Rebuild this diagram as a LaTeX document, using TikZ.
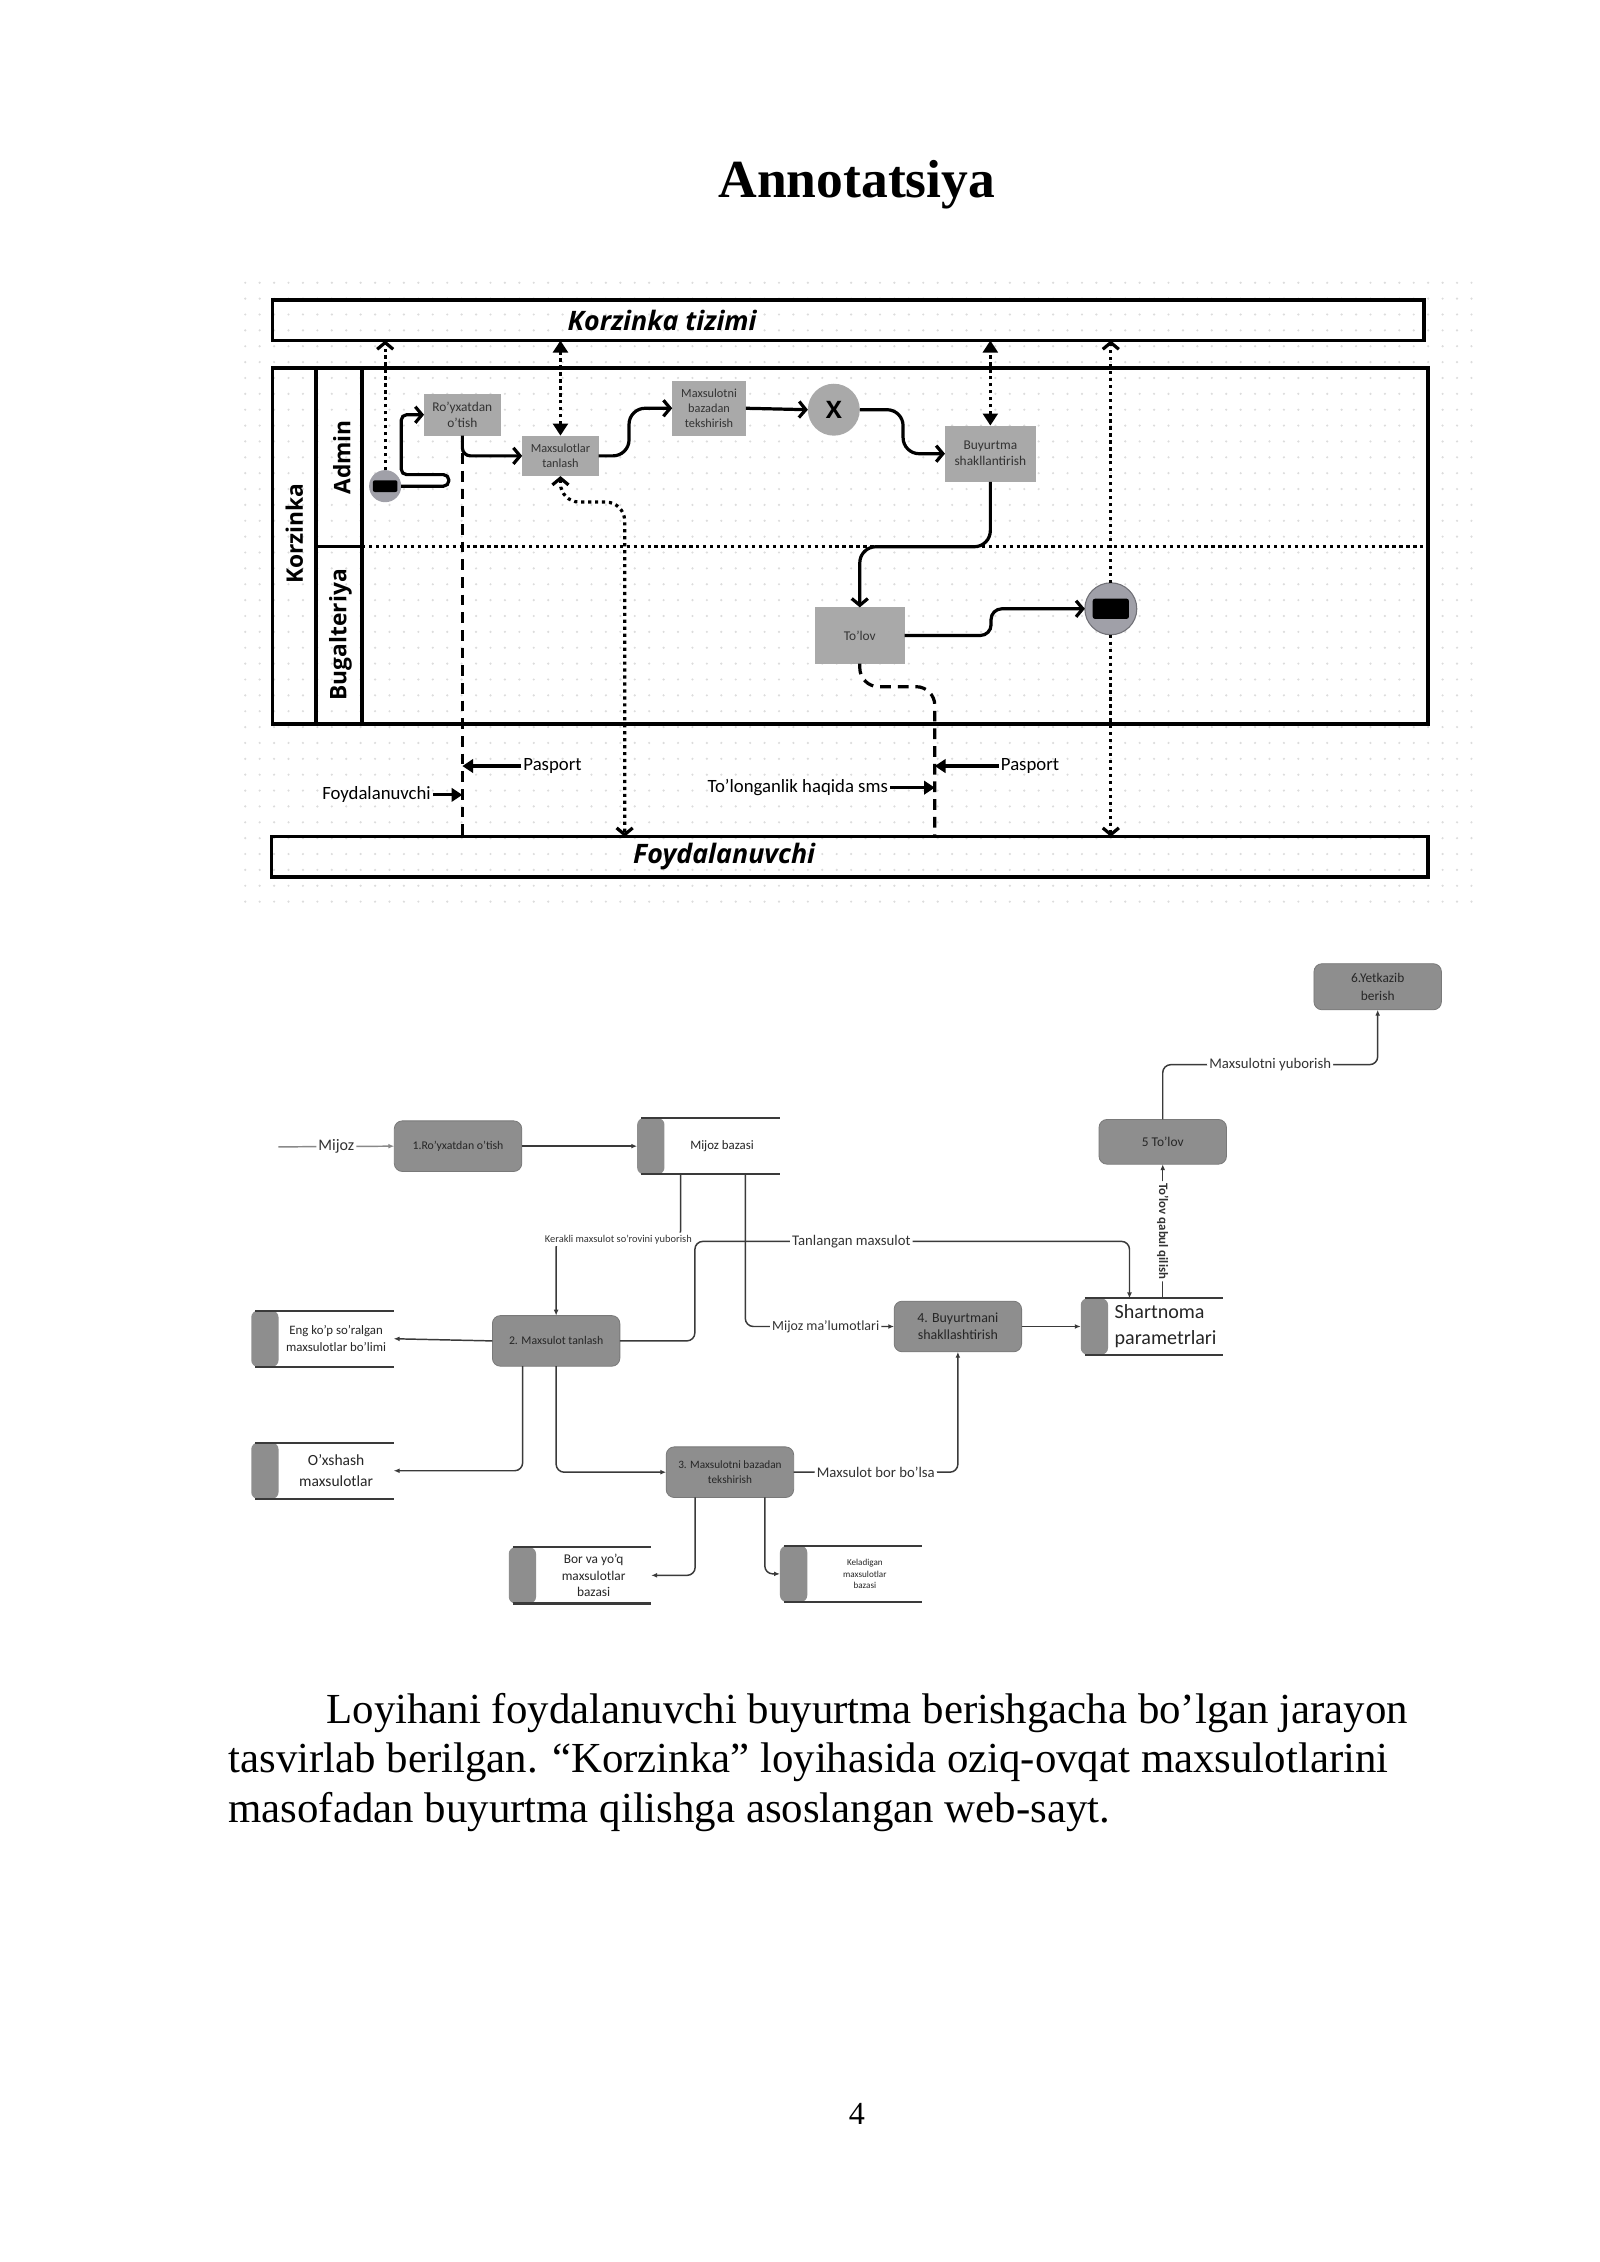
\documentclass[tikz,border=0pt]{standalone}
\usepackage{fontspec}
\setmainfont{Liberation Serif}
\newfontfamily\opensans{Open Sans}
\newfontfamily\carlito{Carlito}
\usepackage{xcolor}
\usepackage{tikz}
\usetikzlibrary{positioning, arrows.meta, calc}
\definecolor{taskgrey}{HTML}{A9A9A9}
\definecolor{eventgrey}{HTML}{A0A0A8}
\definecolor{dfdgrey}{HTML}{8E8E8E}
\definecolor{dfdline}{HTML}{3A3A3A}
\definecolor{gridgrey}{HTML}{DCDCDC}
\definecolor{textgrey}{HTML}{333333}

\begin{document}
\begin{tikzpicture}[x=0.018936cm, y=-0.018936cm,
    poolbox/.style={draw, line width=1.3pt, inner sep=0pt, outer sep=0pt},
    task/.style={fill=taskgrey, inner sep=0pt, outer sep=0pt, align=center, text=textgrey,
      font=\carlito\fontsize{5}{6}\selectfont},
    event/.style 2 args={circle, fill=eventgrey, inner sep=0pt, outer sep=0pt, path picture={
      \fill[black, rounded corners=0.8pt] ([xshift=-#1/2, yshift=-#2/2]path picture bounding box.center) rectangle ++(#1,#2);}},
    barb/.tip={Straight Barb[length=2.5pt, width=6pt]},
    tri/.tip={Triangle[length=4.5pt, width=5.5pt]},
    flow/.style={line width=1.2pt, -barb},
    dotflow/.style={line width=1.2pt, dash pattern=on 1.2pt off 1.4pt},
    dashflow/.style={line width=1.2pt, dash pattern=on 4pt off 2.6pt},
    lanelabel/.style={rotate=90, font=\opensans\bfseries\fontsize{8.5}{10}\selectfont},
    smalllabel/.style={inner sep=0.6pt, font=\carlito\fontsize{7}{8}\selectfont},
    labelarrow/.style={line width=1.2pt, -{Triangle[length=4pt, width=5pt]}},
    process/.style={rounded corners=3pt, fill=dfdgrey, draw=dfdgrey!85!black, line width=0.3pt,
      minimum width=47.6pt, minimum height=18.9pt, inner sep=0pt, outer sep=0pt, align=center,
      text=black!85, font=\carlito\fontsize{4.4}{5.4}\selectfont},
    storecap/.style={rounded corners=2.5pt, fill=dfdgrey, minimum width=10.2pt, minimum height=21pt,
      inner sep=0pt, outer sep=0pt},
    store/.style={minimum width=43pt, minimum height=21pt, inner sep=0.5pt, outer sep=0pt, align=center,
      text=black!85, font=\carlito\fontsize{4.8}{6.4}\selectfont},
    storeline/.style={draw=dfdline, line width=0.8pt},
    dfdarrow/.style={draw=dfdline, line width=0.55pt, rounded corners=3pt,
      -{Latex[length=2.2pt, width=1.8pt]}},
    dfdlabel/.style={fill=white, inner sep=0.8pt, text=black!80,
      font=\carlito\fontsize{5.5}{6.5}\selectfont},
    bodytext/.style={anchor=base west, inner sep=0pt, font=\fontsize{16}{18}\selectfont}
  ]
    \useasboundingbox (0,0) rectangle (1109,1568);
    \fill[white] (0,0) rectangle (1109,1568);
    \node[font=\bfseries\fontsize{20}{24}\selectfont] (title) at (594,128) {Annotatsiya};

    \foreach \gx in {170,180,...,1020} {
        \foreach \gy in {196,207,...,628} {
            \fill[gridgrey] (\gx,\gy) circle (0.45pt);
        }
    }

    \node[poolbox, minimum width=429.9pt, minimum height=15.1pt] (tizimi) at (588,222) {};
    \node[font=\opensans\bfseries\itshape\fontsize{10}{12}\selectfont] (tizimitext) at (459,222) {Korzinka tizimi};
    \node[poolbox, minimum width=431.5pt, minimum height=133.1pt] (pool) at (589.5,378.5) {};
    \draw[line width=1.3pt] (219,255) -- (219,502) (251,255) -- (251,502) (219,379) -- (251,379);
    \draw[dotflow] (251,379) -- (988,379);
    \node[lanelabel] (korzinkalane) at (204,370) {Korzinka};
    \node[lanelabel] (adminlane) at (237,317) {Admin};
    \node[lanelabel] (bugalterlane) at (236,440) {Bugalteriya};
    \node[poolbox, minimum width=432pt, minimum height=15.1pt] (foyda) at (589,594) {};
    \node[font=\opensans\bfseries\itshape\fontsize{10}{12}\selectfont] (foydatext) at (502,594) {Foydalanuvchi};

    \node[task, minimum width=28.6pt, minimum height=15.6pt] (royxat) at (320.5,287.5) {Ro’yxatdan\\o’tish};
    \node[task, minimum width=28.6pt, minimum height=15.1pt, font=\carlito\fontsize{4.6}{5.6}\selectfont] (tanlash) at (388.5,316) {Maxsulotlar\\tanlash};
    \node[task, minimum width=27.5pt, minimum height=20.5pt, font=\carlito\fontsize{4.6}{5.6}\selectfont] (tekshir) at (491.5,283) {Maxsulotni\\bazadan\\tekshirish};
    \node[circle, fill=taskgrey, minimum size=19.4pt, inner sep=0pt, outer sep=0pt, font=\opensans\bfseries\fontsize{9}{10}\selectfont] (gate) at (578,284) {X};
    \node[task, minimum width=33.9pt, minimum height=21pt] (buyurtma) at (686.5,314.5) {Buyurtma\\shakllantirish};
    \node[task, minimum width=33.4pt, minimum height=21pt] (tolov) at (596,440.5) {To’lov};
    \node[event={9.2pt}{4.4pt}, minimum size=12pt] (startev) at (267,337) {};
    \node[event={13.5pt}{7.5pt}, minimum size=19.4pt, draw=eventgrey!70!black, line width=0.4pt] (endev) at (770,422) {};

    \draw[flow, rounded corners=2pt] (startev.east) -- ++(33,0) -- ++(0,-8) -- ++(-33,0) |- (royxat.west);
    \draw[flow, rounded corners=3pt] (royxat.south) |- (tanlash.west);
    \draw[flow, rounded corners=6pt] (tanlash.east) -- ++(21,0) |- (tekshir.west);
    \draw[flow] (tekshir.east) -- (gate.west);
    \draw[flow, rounded corners=6pt] (gate.east) -- ++(30,0) |- (buyurtma.west);
    \draw[flow, rounded corners=6pt] (buyurtma.south) -- ++(0,45) -| (tolov.north);
    \draw[flow, rounded corners=4pt] (tolov.east) -- ++(60,0) |- (endev.west);

    \draw[dotflow, -barb] (startev.north) -- (startev.north |- tizimi.south);
    \draw[dotflow, tri-tri] (tanlash.north) -- (tanlash.north |- tizimi.south);
    \draw[dotflow, tri-tri] (buyurtma.north) -- (buyurtma.north |- tizimi.south);
    \draw[dotflow, -barb] (endev.north) -- (endev.north |- tizimi.south);
    \draw[dotflow, -barb] (endev.south) -- (endev.south |- foyda.north);
    \coordinate (sellift) at (433,580);
    \draw[dotflow, barb-barb, rounded corners=7pt] (tanlash.south) -- ++(0,18) -| (sellift);

    \coordinate (tolovdrop) at (648,580);
    \draw[dashflow] (royxat.south) -- (royxat.south |- foyda.north);
    \draw[dashflow, rounded corners=7pt] (tolov.south) -- ++(0,16) -| (tolovdrop);

    \node[smalllabel] (pasportleft) at (383,531) {Pasport};
    \node[smalllabel] (foydlabel) at (261,551) {Foydalanuvchi};
    \node[smalllabel] (pasportright) at (714,531) {Pasport};
    \node[smalllabel] (smslabel) at (553,546) {To’longanlik haqida sms};
    \draw[labelarrow] (pasportleft.west) -- (pasportleft.west -| royxat.south);
    \draw[labelarrow] (foydlabel.east) -- (foydlabel.east -| royxat.south);
    \draw[labelarrow] (pasportright.west) -- (pasportright.west -| tolovdrop);
    \draw[labelarrow] (smslabel.east) -- (smslabel.east -| tolovdrop);

    \coordinate (mijozsrc) at (193,795);
    \node[process] (p1) at (317.5,794.5) {1.Ro’yxatdan o’tish};
    \node[process] (p2) at (385.5,929.5) {2. Maxsulot tanlash};
    \node[process, font=\carlito\fontsize{4.2}{5.4}\selectfont] (p3) at (506,1020.5) {3. Maxsulotni bazadan\\tekshirish};
    \node[process, font=\carlito\fontsize{5.2}{6.5}\selectfont] (p4) at (664,919.5) {4. Buyurtmani\\shakllashtirish};
    \node[process, minimum height=16.7pt, font=\carlito\fontsize{5}{6}\selectfont] (p5) at (806,791.5) {5 To’lov};
    \node[process, minimum height=17.2pt, font=\carlito\fontsize{5}{6.5}\selectfont] (p6) at (955,684) {6.Yetkazib\\berish};

    \node[store] (mijozdb) at (500.5,794.5) {Mijoz bazasi};
    \node[store] (engdb) at (233,928) {Eng ko’p so’ralgan\\maxsulotlar bo’limi};
    \node[store, font=\carlito\fontsize{5.8}{8}\selectfont] (oxshashdb) at (233,1019.5) {O’xshash\\maxsulotlar};
    \node[store, font=\carlito\fontsize{5}{6.2}\selectfont] (bordb) at (411.5,1092) {Bor va yo’q\\maxsulotlar\\bazasi};
    \node[store, font=\carlito\fontsize{3.4}{4.4}\selectfont] (keladdb) at (599.5,1091) {Keladigan\\maxsulotlar\\bazasi};
    \node[store, align=left, font=\carlito\fontsize{7.5}{9.6}\selectfont] (shartdb) at (808,919.5) {Shartnoma\\parametrlari};
    \foreach \dbname in {mijoz, eng, oxshash, bor, kelad, shart} {
        \node[storecap, left=0pt of \dbname db] (\dbname cap) {};
        \draw[storeline] ([xshift=1.5pt]\dbname cap.north west) -- (\dbname db.north east)
            ([xshift=1.5pt]\dbname cap.south west) -- (\dbname db.south east);
    }

    \draw[dfdarrow, draw=dfdline!60] (mijozsrc) -- node[dfdlabel, font=\carlito\fontsize{6}{7}\selectfont]{Mijoz} (p1.west);
    \draw[dfdarrow] (p1.east) -- (mijozcap.west);
    \draw[dfdarrow] ([xshift=6pt]mijozdb.south west) -- ++(0,45) -| node[dfdlabel, pos=0.25, font=\carlito\fontsize{3.9}{4.5}\selectfont]{Kerakli maxsulot so’rovini yuborish} (p2.north);
    \draw[dfdarrow] (p2.east) -- ++(52,0) -- ++(0,-69) -| node[dfdlabel, pos=0.18]{Tanlangan maxsulot} ([xshift=8pt]shartdb.north west);
    \draw[dfdarrow] ([xshift=30.2pt]mijozdb.south west) |- node[dfdlabel, pos=0.77, font=\carlito\fontsize{5.2}{6}\selectfont]{Mijoz ma’lumotlari} (p4.west);
    \draw[dfdarrow] (p4.east) -- (shartcap.west);
    \draw[dfdarrow] (shartdb.north -| p5.south) -- node[dfdlabel, rotate=-90, font=\carlito\bfseries\fontsize{4.8}{6}\selectfont]{To’lov qabul qilish} (p5.south);
    \draw[dfdarrow] (p5.north) -- ++(0,-38) -| node[dfdlabel, pos=0.25]{Maxsulotni yuborish} (p6.south);
    \draw[dfdarrow] (p2.west) -- (engdb.east);
    \draw[dfdarrow] ([xshift=11.3pt]p2.south west) |- (oxshashdb.east);
    \draw[dfdarrow] (p2.south) |- (p3.west);
    \draw[dfdarrow] (p3.east) -| node[dfdlabel, pos=0.25]{Maxsulot bor bo’lsa} (p4.south);
    \draw[dfdarrow] ([xshift=10.8pt]p3.south west) |- (bordb.east);
    \draw[dfdarrow] ([xshift=-10.8pt]p3.south east) |- (keladcap.west);

    \node[bodytext] (bodyone) at (226,1195) {Loyihani foydalanuvchi buyurtma berishgacha bo’lgan jarayon};
    \node[bodytext] (bodytwo) at (158,1229) {tasvirlab berilgan. “Korzinka” loyihasida oziq-ovqat maxsulotlarini};
    \node[bodytext] (bodythree) at (158,1263) {masofadan buyurtma qilishga asoslangan web-sayt.};
    \node[font=\fontsize{12}{14}\selectfont] (pagenum) at (594,1465) {4};
\end{tikzpicture}
\end{document}
